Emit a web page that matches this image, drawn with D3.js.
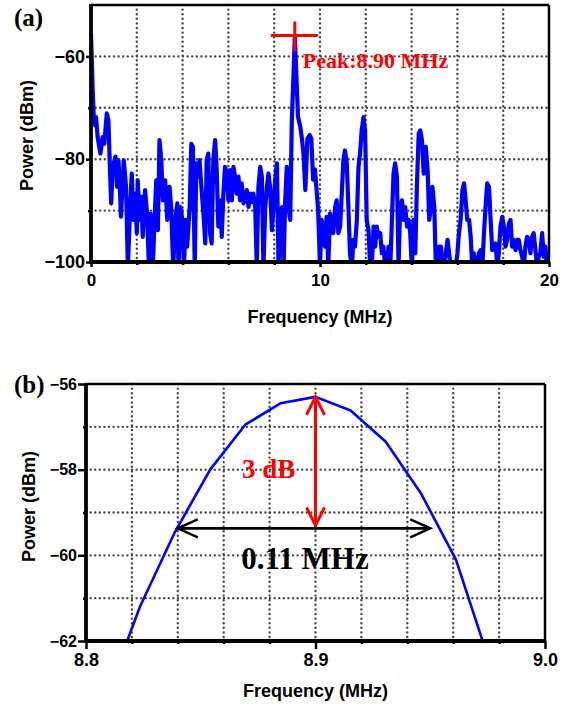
<!DOCTYPE html>
<html>
<head>
<meta charset="utf-8">
<script src="https://cdn.jsdelivr.net/npm/d3@7"></script>
<style>
body { margin: 0; background: #fff; }
text { font-family: "Liberation Sans", Arial, sans-serif; font-weight: bold; }
.serif { font-family: "Liberation Serif", "Times New Roman", serif; }
</style>
</head>
<body>
<svg id="chart" width="566" height="706"></svg>
<script>
// ---- panel (a): wide spectrum, 0-20 MHz ----
var aFreq = [
  0.00, 0.07, 0.12, 0.18, 0.22, 0.29, 0.41, 0.51, 0.58, 0.69, 0.76, 0.82, 0.88, 0.95,
  1.07, 1.14, 1.20, 1.27, 1.31, 1.43, 1.53, 1.61, 1.71, 1.78, 1.85, 1.93, 2.00, 2.04,
  2.12, 2.19, 2.26, 2.36, 2.45, 2.53, 2.60, 2.70, 2.77, 2.85, 2.92, 2.99, 3.07, 3.14,
  3.24, 3.33, 3.43, 3.50, 3.59, 3.68, 3.77, 3.82, 3.91, 3.99, 4.06, 4.13, 4.20, 4.31,
  4.38, 4.45, 4.53, 4.60, 4.67, 4.74, 4.82, 4.93, 4.99, 5.05, 5.12, 5.20, 5.27, 5.34,
  5.42, 5.49, 5.56, 5.64, 5.71, 5.78, 5.85, 5.93, 6.00, 6.07, 6.15, 6.22, 6.29, 6.36,
  6.44, 6.51, 6.58, 6.66, 6.73, 6.80, 6.88, 6.95, 7.02, 7.09, 7.17, 7.24, 7.31, 7.39,
  7.46, 7.53, 7.61, 7.68, 7.75, 7.82, 7.90, 7.97, 8.04, 8.12, 8.19, 8.26, 8.34, 8.41,
  8.48, 8.55, 8.62, 8.70, 8.77, 8.85, 8.90, 8.96, 9.04, 9.14, 9.21, 9.28, 9.36, 9.45,
  9.55, 9.62, 9.70, 9.78, 9.85, 9.92, 10.00, 10.07, 10.15, 10.22, 10.29, 10.36, 10.44,
  10.51, 10.58, 10.66, 10.73, 10.80, 10.88, 10.95, 11.02, 11.09, 11.17, 11.24, 11.31,
  11.39, 11.46, 11.53, 11.61, 11.68, 11.75, 11.82, 11.90, 11.97, 12.04, 12.12, 12.19,
  12.26, 12.34, 12.41, 12.48, 12.55, 12.63, 12.70, 12.77, 12.85, 12.92, 12.99, 13.07,
  13.14, 13.21, 13.28, 13.36, 13.43, 13.50, 13.58, 13.65, 13.72, 13.80, 13.87, 13.94,
  14.01, 14.09, 14.16, 14.23, 14.31, 14.38, 14.45, 14.53, 14.62, 14.70, 14.77, 14.84,
  14.91, 14.99, 15.06, 15.13, 15.20, 15.28, 15.35, 15.42, 15.49, 15.57, 15.64, 15.71,
  15.86, 15.93, 16.00, 16.07, 16.14, 16.22, 16.29, 16.36, 16.43, 16.51, 16.58, 16.65,
  16.72, 16.80, 16.87, 16.94, 17.01, 17.09, 17.16, 17.23, 17.30, 17.38, 17.45, 17.52,
  17.59, 17.67, 17.74, 17.81, 17.88, 17.96, 18.03, 18.10, 18.17, 18.25, 18.32, 18.39,
  18.46, 18.54, 18.61, 18.68, 18.75, 18.83, 18.90, 18.97, 19.04, 19.12, 19.19, 19.26,
  19.33, 19.41, 19.48, 19.55, 19.62, 19.70, 19.77, 19.84, 19.91, 20.00
];
var aPower = [
  -55.6, -66.0, -71.8, -73.4, -71.8, -75.7, -78.9, -75.7, -77.0, -71.1, -72.4, -80.8, -88.6, -81.5,
  -79.5, -85.4, -80.2, -86.7, -91.2, -80.2, -85.4, -101, -89.3, -82.8, -91.8, -86.7, -94.4, -84.1,
  -91.8, -87.3, -95.1, -86.0, -90.6, -101, -90.6, -101, -92.5, -84.1, -93.8, -76.3, -80.2, -88.0,
  -84.1, -91.8, -85.4, -89.3, -101, -91.8, -88.6, -101, -89.3, -91.8, -101, -91.8, -97.0, -89.3,
  -77.0, -77.6, -101, -80.8, -83.4, -80.2, -85.4, -91.8, -96.4, -80.2, -78.9, -94.4, -96.4, -80.2,
  -76.3, -82.1, -93.1, -88.0, -95.1, -86.7, -81.5, -82.8, -88.0, -82.1, -88.0, -81.5, -83.4, -86.7,
  -83.4, -88.0, -84.7, -88.6, -88.0, -86.0, -89.3, -86.7, -88.3, -86.7, -89.3, -101, -85.4, -81.5,
  -83.4, -101, -89.3, -85.4, -82.8, -85.4, -93.8, -89.3, -84.1, -80.8, -101, -91.8, -89.3, -101,
  -88.0, -81.5, -89.3, -91.8, -72.4, -62.7, -56.3, -62.7, -71.8, -73.7, -76.0, -79.0, -86.0, -76.0,
  -75.3, -76.0, -84.0, -82.0, -86.0, -90.0, -101, -91.8, -93.1, -97.0, -91.2, -101, -90.6,
  -91.8, -94.4, -89.3, -88.0, -94.4, -93.1, -86.7, -80.2, -78.3, -80.8, -89.3, -98.3,
  -101, -95.7, -97.0, -91.8, -81.5, -78.9, -74.4, -71.8, -74.4, -91.8, -93.8, -101,
  -101, -93.1, -97.0, -93.1, -95.1, -94.4, -98.3, -97.0, -101, -101, -97.0, -101,
  -91.8, -82.8, -80.8, -83.4, -101, -89.3, -88.0, -91.8, -89.3, -93.1, -91.8, -94.4,
  -101, -91.8, -98.3, -85.4, -75.0, -74.4, -76.3, -82.8, -77.6, -82.1, -91.8, -89.3,
  -85.4, -89.3, -101, -101, -97.0, -97.0, -101, -101, -98.3, -95.7, -98.3, -101,
  -101, -101, -98.3, -94.4, -91.8, -86.0, -84.7, -88.0, -91.8, -91.8, -95.1, -101,
  -98.3, -101, -101, -98.3, -97.7, -101, -94.4, -89.3, -84.7, -85.4, -91.8, -97.7,
  -97.0, -96.4, -101, -98.3, -93.1, -91.2, -93.1, -97.0, -95.7, -92.5, -91.8, -97.0,
  -95.7, -97.7, -95.7, -95.7, -97.7, -99.0, -101, -97.0, -95.1, -95.7, -98.3, -95.1,
  -94.4, -97.7, -101, -99.0, -98.3, -94.4, -99.0, -97.0, -101, -99.0
];
var aXLabels = [0, 10, 20];
var aXGrid = [2, 4, 6, 8, 10, 12, 14, 16, 18];
var aYLabels = [-100, -80, -60];
var aYGrid = [-90, -80, -70, -60];

// ---- panel (b): zoom around the peak ----
var bFreq = [8.8082, 8.8235, 8.8388, 8.8541, 8.8694, 8.8847, 8.9000, 8.9153, 8.9306, 8.9459, 8.9612, 8.9765];
var bPower = [-63.4, -61.2, -59.45, -58.0, -56.95, -56.45, -56.3, -56.62, -57.35, -58.55, -60.1, -62.6];
var bXLabels = [8.8, 8.9, 9.0];
var bXGrid = [8.82, 8.84, 8.86, 8.88, 8.90, 8.92, 8.94, 8.96, 8.98];
var bYLabels = [-62, -60, -58, -56];
var bYGrid = [-61, -60, -59, -58, -57];

// annotations
var peakFreq = 8.90, peakPower = -56.3;
var halfPowerLevel = -59.3, bwStart = 8.84, bwEnd = 8.95;

var svg = d3.select("#chart");

function dotted(sel) {
  sel.attr("stroke", "#444")
     .attr("stroke-width", 2.4)
     .attr("stroke-linecap", "round")
     .attr("stroke-dasharray", "0,4.6");
}

function drawPanel(p) {
  var x = d3.scaleLinear().domain(p.xDomain).range([p.left, p.right]);
  var y = d3.scaleLinear().domain(p.yDomain).range([p.bottom, p.top]);
  var g = svg.append("g");

  // grid
  g.selectAll("line.vg").data(p.xGrid).enter().append("line")
    .attr("class", "vg")
    .attr("x1", function(d){ return x(d); }).attr("x2", function(d){ return x(d); })
    .attr("y1", p.top).attr("y2", p.bottom)
    .call(dotted);
  g.selectAll("line.hg").data(p.yGrid).enter().append("line")
    .attr("class", "hg")
    .attr("x1", p.left).attr("x2", p.right)
    .attr("y1", function(d){ return y(d); }).attr("y2", function(d){ return y(d); })
    .call(dotted);

  // data line, clipped to plot box
  g.append("clipPath").attr("id", p.id + "-clip")
    .append("rect")
    .attr("x", p.left).attr("y", p.top)
    .attr("width", p.right - p.left).attr("height", p.bottom - p.top);
  var line = d3.line()
    .x(function(d){ return x(d[0]); })
    .y(function(d){ return y(d[1]); });
  g.append("path")
    .datum(d3.zip(p.freq, p.power))
    .attr("clip-path", "url(#" + p.id + "-clip)")
    .attr("fill", "none")
    .attr("stroke", "#0000ff")
    .attr("stroke-width", p.lineWidth)
    .attr("stroke-linejoin", "round")
    .attr("d", line);

  // axes (ticks + labels), frame drawn separately
  var xTicks = p.xLabels.concat(p.xGrid.filter(function(v){ return p.xLabels.indexOf(v) < 0; }));
  var xAxis = g.append("g")
    .attr("transform", "translate(0," + p.bottom + ")")
    .call(d3.axisBottom(x).tickValues(xTicks).tickSize(p.tickLen)
      .tickFormat(function(d){ return p.xLabels.indexOf(d) >= 0 ? p.xFmt(d) : ""; }));
  xAxis.select(".domain").remove();
  xAxis.selectAll("line").attr("stroke-width", 2.5)
    .attr("y2", function(d){ return p.xLabels.indexOf(d) >= 0 ? p.tickLen : p.minorLen; });
  xAxis.selectAll("text")
    .attr("y", p.xLabelDy).attr("dy", null)
    .attr("font-size", p.xFont).attr("fill", "#000");

  var yTicks = p.yLabels.concat(p.yGrid.filter(function(v){ return p.yLabels.indexOf(v) < 0; }));
  var yAxis = g.append("g")
    .attr("transform", "translate(" + p.left + ",0)")
    .call(d3.axisLeft(y).tickValues(yTicks).tickSize(p.tickLen).tickPadding(p.yPad)
      .tickFormat(function(d){ return p.yLabels.indexOf(d) >= 0 ? d3.format("d")(d) : ""; }));
  yAxis.select(".domain").remove();
  yAxis.selectAll("line").attr("stroke-width", 2.5)
    .attr("x2", function(d){ return p.yLabels.indexOf(d) >= 0 ? -p.tickLen : -p.minorLen; });
  yAxis.selectAll("text").attr("font-size", p.yFont).attr("fill", "#000");

  // frame: heavy left/bottom, lighter top/right
  g.append("line").attr("x1", p.left).attr("x2", p.right).attr("y1", p.top).attr("y2", p.top)
    .attr("stroke", "#000").attr("stroke-width", 2.5);
  g.append("line").attr("x1", p.right).attr("x2", p.right).attr("y1", p.top).attr("y2", p.bottom)
    .attr("stroke", "#000").attr("stroke-width", 2.5);
  g.append("line").attr("x1", p.left).attr("x2", p.left).attr("y1", p.top - 1).attr("y2", p.bottom + 1.5)
    .attr("stroke", "#000").attr("stroke-width", 3.8);
  g.append("line").attr("x1", p.left - 1.5).attr("x2", p.right + 1).attr("y1", p.bottom).attr("y2", p.bottom)
    .attr("stroke", "#000").attr("stroke-width", 3.8);

  // axis titles
  g.append("text")
    .attr("x", (p.left + p.right) / 2).attr("y", p.bottom + p.xTitleDy)
    .attr("text-anchor", "middle").attr("font-size", 18)
    .text("Frequency (MHz)");
  g.append("text")
    .attr("transform", "translate(" + p.yTitleX + "," + ((p.top + p.bottom) / 2 + p.yTitleShift) + ") rotate(-90)")
    .attr("text-anchor", "middle").attr("font-size", 18)
    .text("Power (dBm)");

  // panel letter
  g.append("text").attr("class", "serif")
    .attr("x", 14).attr("y", p.letterY)
    .attr("font-size", 25)
    .text(p.letter);

  return { x: x, y: y, g: g };
}

var a = drawPanel({
  id: "pa", letter: "(a)", letterY: 26,
  left: 91, right: 549, top: 5, bottom: 262,
  xDomain: [0, 20], yDomain: [-100, -50],
  freq: aFreq, power: aPower, lineWidth: 4.2,
  xLabels: aXLabels, xGrid: aXGrid, yLabels: aYLabels, yGrid: aYGrid,
  xFmt: d3.format("d"), tickLen: 5, minorLen: 3, yPad: 1,
  xFont: 17, yFont: 18, xLabelDy: 24, xTitleDy: 61, yTitleX: 33, yTitleShift: 2
});

var b = drawPanel({
  id: "pb", letter: "(b)", letterY: 393,
  left: 86, right: 545, top: 384, bottom: 641,
  xDomain: [8.8, 9.0], yDomain: [-62, -56],
  freq: bFreq, power: bPower, lineWidth: 2.6,
  xLabels: bXLabels, xGrid: bXGrid, yLabels: bYLabels, yGrid: bYGrid,
  xFmt: d3.format(".1f"), tickLen: 8, minorLen: 3, yPad: 1,
  xFont: 18, yFont: 16, xLabelDy: 25, xTitleDy: 56, yTitleX: 35, yTitleShift: -6
});

// ---- annotations in (a): red cross on the peak ----
var px = a.x(peakFreq), py = a.y(peakPower);
a.g.append("path")
  .attr("d", "M" + (px - 24) + "," + (py - 2) + "H" + (px + 23) +
             "M" + px + "," + (py - 16) + "V" + (py + 14))
  .attr("stroke", "#ff0000").attr("stroke-width", 3).attr("fill", "none");
a.g.append("text").attr("class", "serif")
  .attr("x", px + 8).attr("y", 68)
  .attr("font-size", 22).attr("fill", "#ff0000")
  .text("Peak:8.90 MHz");

// ---- annotations in (b): 3 dB and bandwidth arrows ----
var ax = b.x(peakFreq), yTop = b.y(peakPower), yLow = b.y(halfPowerLevel);
b.g.append("path")
  .attr("d", "M" + ax + "," + yTop + "V" + yLow +
             "M" + (ax - 9) + "," + (yTop + 18) + "L" + ax + "," + yTop + "L" + (ax + 9) + "," + (yTop + 18) +
             "M" + (ax - 9) + "," + (yLow - 18) + "L" + ax + "," + yLow + "L" + (ax + 9) + "," + (yLow - 18))
  .attr("stroke", "#ff0000").attr("stroke-width", 3).attr("fill", "none");
b.g.append("text").attr("class", "serif")
  .attr("x", 242).attr("y", 478)
  .attr("font-size", 27).attr("fill", "#ff0000")
  .text("3 dB");

var x1 = b.x(bwStart), x2 = b.x(bwEnd), yb = yLow + 3;
b.g.append("path")
  .attr("d", "M" + x1 + "," + yb + "H" + x2 +
             "M" + (x1 + 20) + "," + (yb - 9) + "L" + x1 + "," + yb + "L" + (x1 + 20) + "," + (yb + 9) +
             "M" + (x2 - 20) + "," + (yb - 9) + "L" + x2 + "," + yb + "L" + (x2 - 20) + "," + (yb + 9))
  .attr("stroke", "#000").attr("stroke-width", 2.6).attr("fill", "none");
b.g.append("text").attr("class", "serif")
  .attr("x", 305).attr("y", 569)
  .attr("text-anchor", "middle")
  .attr("font-size", 31).attr("fill", "#000")
  .text("0.11 MHz");
</script>
</body>
</html>
